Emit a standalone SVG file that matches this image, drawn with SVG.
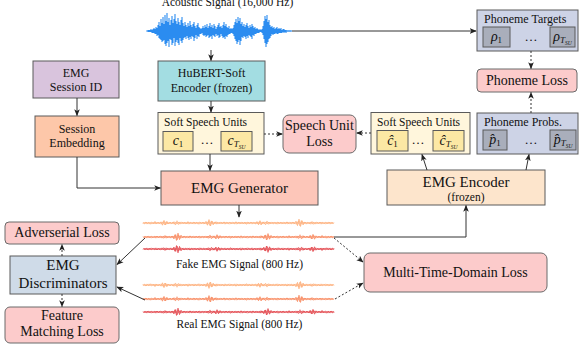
<svg xmlns="http://www.w3.org/2000/svg" xmlns:xlink="http://www.w3.org/1999/xlink" width="582" height="353" viewBox="0 0 582 353" font-family="Liberation Serif, Tinos, Times New Roman, DejaVu Serif, serif">
<style>
text{font-family:"Liberation Serif","Tinos","Times New Roman","DejaVu Serif",serif;fill:#111}
.box{stroke:#5a5a5a;stroke-width:1}
.loss{fill:#fccbcb;stroke:#6a6a6a;stroke-width:1}
.ln{fill:none;stroke:#333;stroke-width:1}
.dot{fill:none;stroke:#333;stroke-width:1;stroke-dasharray:2,2}
.m{font-style:italic}
.t11{font-size:11.5px}
.t12{font-size:12px}
.t14{font-size:14px}
.t15{font-size:15px}
.sig{fill:none;stroke-width:0.85}
</style>
<defs>
<marker id="ah" viewBox="0 0 10 10" refX="9" refY="5" markerWidth="7" markerHeight="7" markerUnits="userSpaceOnUse" orient="auto">
<path d="M0,1 L10,5 L0,9 L2.5,5 z" fill="#222"/>
</marker>
<path id="sA" d="M0,-0.5 L1.5,0.8 3,-1 4.5,0.6 6,-0.8 7.5,1.2 9,-0.6 10.5,0.9 12,-1.5 13.5,1 15,-0.7 16.5,0.5 18,-1.2 19.5,2.2 21,-2.6 22.5,2 24,-1.5 25.5,1 27,-0.8 28.5,0.6 30,-1 31.5,0.8 33,-0.5 34.5,0.7 36,-0.9 37.5,1.1 39,-0.6 40.5,0.5 42,-0.8 43.5,1 45,-1.3 46.5,0.7 48,-0.6 49.5,0.9 51,-1 52.5,0.6 54,-0.7 55.5,1.2 57,-0.8 58.5,0.5 60,-1 61.5,0.8 63,-1.6 64.5,2.2 66,-3.4 67.5,3 69,-2 70.5,1.5 72,-1 73.5,0.8 75,-0.6 76.5,0.9 78,-0.7 79.5,0.5 81,-1.1 82.5,0.8 84,-0.6 85.5,0.7 87,-0.9 88.5,1 90,-0.5 91.5,0.8 93,-1.2 94.5,0.6 96,-0.8 97.5,1 99,-0.7 100.5,0.5 102,-0.9 103.5,1.3 105,-0.8 106.5,0.6 108,-1 109.5,0.7 111,-0.5 112.5,0.9 114,-1.4 115.5,1.8 117,-2.3 118.5,1.6 120,-1 121.5,0.7 123,-0.8 124.5,0.6 126,-1 127.5,0.9 129,-0.6 130.5,0.8 132,-0.7 133.5,1.1 135,-0.9 136.5,0.5 138,-0.8 139.5,1 141,-0.6 142.5,0.7 144,-1.1 145.5,0.9 147,-0.6 148.5,0.8 150,-1 151.5,0.7 153,-1.8 154.5,2.6 156,-3.8 157.5,3.4 159,-2.3 160.5,1.5 162,-1 163.5,0.8 165,-0.6 166.5,1 168,-0.9 169.5,0.6 171,-0.8 172.5,1.1 174,-0.7 175.5,0.5 177,-1 178.5,0.8 180,-0.6 181.5,0.9 183,-0.7 184.5,1 186,-0.8 187.5,0.6 189,-0.5 190.5,0.4"/>
<g id="sig" class="sig">
<use xlink:href="#sA" href="#sA"/>
<use xlink:href="#sA" href="#sA" transform="translate(0.75,0) scale(1,-0.7)"/>
<use xlink:href="#sA" href="#sA" transform="translate(190,0) scale(-1,0.6)"/>
</g>
</defs>
<rect width="582" height="353" fill="#fff"/>

<g id="acoustic">
<text class="t11" x="227.5" y="6" text-anchor="middle">Acoustic Signal (16,000 Hz)</text>
<path d="M146 31H292" stroke="#2b8cf0" stroke-width="0.8" fill="none"/>
<path stroke="#2b8cf0" stroke-width="1.1" fill="none" d="M148 30V32M149 30V32M150 30V32M151 29V32M152 30V33M153 29V33M154 28V33M155 29V34M156 27V34M157 28V36M158 25V35M159 22V38M160 26V39M161 19V40M162 23V42M163 17V41M164 24V40M165 15V44M166 21V46M167 13V43M168 22V41M169 18V47M170 25V39M171 20V40M172 16V45M173 23V43M174 19V38M175 14V46M176 21V42M177 24V40M178 18V43M179 22V45M180 25V38M181 20V41M182 17V43M183 23V40M184 26V38M185 22V37M186 25V39M187 27V36M188 23V38M189 26V40M190 21V37M191 25V39M192 27V36M193 24V37M194 22V41M195 26V38M196 28V35M197 25V39M198 23V36M199 27V37M200 28V34M201 29V34M202 28V33M203 26V35M204 28V36M205 25V35M206 27V37M207 24V36M208 28V35M209 26V38M210 23V37M211 27V36M212 25V39M213 28V35M214 24V36M215 26V37M216 29V34M217 27V36M218 25V35M219 23V38M220 27V37M221 26V34M222 28V36M223 25V38M224 22V37M225 26V39M226 24V36M227 27V37M228 28V35M229 26V34M230 29V34M231 28V33M232 29V33M233 28V34M234 25V36M235 22V39M236 19V41M237 23V44M238 17V42M239 21V40M240 18V45M241 24V41M242 22V37M243 26V38M244 24V36M245 27V37M246 25V39M247 23V36M248 26V38M249 28V35M250 25V36M251 27V37M252 24V39M253 26V35M254 28V36M255 27V34M256 29V34M257 28V33M258 29V33M259 30V33M260 29V32M261 30V32M262 29V33M263 26V35M264 21V39M265 16V43M266 19V47M267 15V44M268 22V42M269 20V39M270 25V38M271 27V36M272 26V34M273 28V35M274 27V34M275 29V34M276 28V33M277 27V34M278 29V34M279 28V33M280 29V33M281 28V33M282 30V33M283 29V32M284 29V33M285 30V32M286 30V33M287 30.5V31.5M288 30.5V31.5M289 30.5V31.5M290 30.5V31.5M291 30.5V31.5"/>
</g>

<g id="fake-emg">
<use xlink:href="#sig" href="#sig" transform="translate(143,223)" stroke="#fdb07c"/>
<use xlink:href="#sig" href="#sig" transform="translate(334,237) scale(-1,1)" stroke="#f88c63"/>
<use xlink:href="#sig" href="#sig" transform="translate(334,249) scale(-1,-1)" stroke="#e34a4f"/>
<text class="t11" x="239.5" y="268" text-anchor="middle">Fake EMG Signal (800 Hz)</text>
</g>

<g id="real-emg">
<use xlink:href="#sig" href="#sig" transform="translate(143,285) scale(1,-1)" stroke="#fdb07c"/>
<use xlink:href="#sig" href="#sig" transform="translate(143,299)" stroke="#f88c63"/>
<use xlink:href="#sig" href="#sig" transform="translate(334,312) scale(-1,1)" stroke="#e34a4f"/>
<text class="t11" x="239.5" y="328" text-anchor="middle">Real EMG Signal (800 Hz)</text>
</g>

<g id="emg-session-id">
<rect class="box" x="33" y="61" width="86" height="37" fill="#d9c4dd"/>
<text class="t12" x="76" y="77" text-anchor="middle">EMG</text>
<text class="t12" x="76" y="91" text-anchor="middle">Session ID</text>
</g>

<g id="session-embedding">
<rect class="box" x="35" y="116" width="84" height="41" fill="#fdc7a9"/>
<text class="t12" x="77" y="133" text-anchor="middle">Session</text>
<text class="t12" x="77" y="147" text-anchor="middle">Embedding</text>
</g>

<g id="hubert">
<rect class="box" x="158" y="61" width="107" height="40" fill="#a3dde2"/>
<text class="t12" x="211.5" y="77" text-anchor="middle">HuBERT-Soft</text>
<text class="t12" x="211.5" y="92" text-anchor="middle">Encoder (frozen)</text>
</g>

<g id="soft-speech-units">
<rect class="box" x="158" y="112.5" width="106" height="41.5" fill="#fff6dc"/>
<text class="t11" x="164" y="125.5">Soft Speech Units</text>
<rect class="box" x="163" y="131.5" width="30" height="19.5" fill="#fce8a4"/>
<text x="178" y="145" text-anchor="middle" font-size="14"><tspan class="m">c</tspan><tspan font-size="9" dy="2">1</tspan></text>
<text x="207" y="144" text-anchor="middle" font-size="13">…</text>
<rect class="box" x="221" y="131.5" width="31" height="19.5" fill="#fce8a4"/>
<text x="236.5" y="145" text-anchor="middle" font-size="14"><tspan class="m">c</tspan><tspan class="m" font-size="9" dy="2">T</tspan><tspan class="m" font-size="5.5" dy="1.5">SU</tspan></text>
</g>

<g id="speech-unit-loss">
<rect class="loss" x="283" y="115" width="73" height="38" rx="6"/>
<text class="t14" x="319.5" y="130" text-anchor="middle">Speech Unit</text>
<text class="t14" x="319.5" y="146" text-anchor="middle">Loss</text>
</g>

<g id="soft-speech-units-hat">
<rect class="box" x="371" y="112.5" width="99" height="41.5" fill="#fff6dc"/>
<text class="t11" x="377" y="125.5">Soft Speech Units</text>
<rect class="box" x="377" y="130.5" width="31" height="20.5" fill="#fce8a4"/>
<text x="392.5" y="145" text-anchor="middle" font-size="14"><tspan class="m">ĉ</tspan><tspan font-size="9" dy="2">1</tspan></text>
<text x="418" y="144" text-anchor="middle" font-size="13">…</text>
<rect class="box" x="433" y="130.5" width="31" height="20.5" fill="#fce8a4"/>
<text x="448.5" y="145" text-anchor="middle" font-size="14"><tspan class="m">ĉ</tspan><tspan class="m" font-size="9" dy="2">T</tspan><tspan class="m" font-size="5.5" dy="1.5">SU</tspan></text>
</g>

<g id="phoneme-targets">
<rect class="box" x="477" y="10" width="101" height="41" fill="#cdd3e6"/>
<text class="t12" x="484" y="23">Phoneme Targets</text>
<rect class="box" x="483" y="27" width="27" height="20" fill="#a9aebb"/>
<text x="496.5" y="41" text-anchor="middle" font-size="14"><tspan class="m">ρ</tspan><tspan font-size="9" dy="2">1</tspan></text>
<text x="531" y="41" text-anchor="middle" font-size="13">…</text>
<rect class="box" x="550" y="27" width="25" height="20" fill="#a9aebb"/>
<text x="562.5" y="41" text-anchor="middle" font-size="14"><tspan class="m">ρ</tspan><tspan class="m" font-size="9" dy="2">T</tspan><tspan class="m" font-size="5.5" dy="1.5">SU</tspan></text>
</g>

<g id="phoneme-loss">
<rect class="loss" x="477" y="69" width="100" height="23" rx="4"/>
<text class="t14" x="527" y="85" text-anchor="middle">Phoneme Loss</text>
</g>

<g id="phoneme-probs">
<rect class="box" x="477" y="113" width="101" height="41" fill="#cdd3e6"/>
<text class="t12" x="484" y="126">Phoneme Probs.</text>
<rect class="box" x="483" y="130" width="24" height="20" fill="#a9aebb"/>
<text x="495" y="144" text-anchor="middle" font-size="14"><tspan class="m">p̂</tspan><tspan font-size="9" dy="2">1</tspan></text>
<text x="531" y="144" text-anchor="middle" font-size="13">…</text>
<rect class="box" x="550" y="130" width="26" height="20" fill="#a9aebb"/>
<text x="563" y="144" text-anchor="middle" font-size="14"><tspan class="m">p̂</tspan><tspan class="m" font-size="9" dy="2">T</tspan><tspan class="m" font-size="5.5" dy="1.5">SU</tspan></text>
</g>

<g id="emg-generator">
<rect class="box" x="161" y="171" width="157" height="34" fill="#fdc6b9"/>
<text class="t15" x="239.5" y="193" text-anchor="middle">EMG Generator</text>
</g>

<g id="emg-encoder">
<rect class="box" x="387" y="170" width="158" height="35" fill="#fde5cc"/>
<text class="t15" x="466" y="187" text-anchor="middle">EMG Encoder</text>
<text class="t11" x="466" y="201" text-anchor="middle">(frozen)</text>
</g>

<g id="adverserial-loss">
<rect class="loss" x="5" y="222" width="114" height="22" rx="4"/>
<text class="t14" x="62" y="237" text-anchor="middle">Adverserial Loss</text>
</g>

<g id="emg-discriminators">
<rect class="box" x="10" y="256" width="106" height="38" fill="#cfdbe8"/>
<text class="t15" x="63" y="270" text-anchor="middle">EMG</text>
<text class="t15" x="63" y="288" text-anchor="middle">Discriminators</text>
</g>

<g id="feature-matching-loss">
<rect class="loss" x="5" y="307" width="114" height="36" rx="5"/>
<text class="t14" x="62" y="320" text-anchor="middle">Feature</text>
<text class="t14" x="62" y="336" text-anchor="middle">Matching Loss</text>
</g>

<g id="multi-time-domain-loss">
<rect class="loss" x="364" y="253" width="183" height="39" rx="6"/>
<text class="t14" x="455.5" y="277" text-anchor="middle">Multi-Time-Domain Loss</text>
</g>

<g id="connectors">
<path class="ln" d="M292 31H476" marker-end="url(#ah)"/>
<path class="ln" d="M211 50V60.5" marker-end="url(#ah)"/>
<path class="ln" d="M211 101V112" marker-end="url(#ah)"/>
<path class="ln" d="M77 98V115.5" marker-end="url(#ah)"/>
<path class="ln" d="M77 157V188H160.5" marker-end="url(#ah)"/>
<path class="ln" d="M210 154V170.5" marker-end="url(#ah)"/>
<path class="ln" d="M239 205V217" marker-end="url(#ah)"/>
<path class="dot" d="M264 134H282.5" marker-end="url(#ah)"/>
<path class="dot" d="M371 133H356.5" marker-end="url(#ah)"/>
<path class="dot" d="M531 51V68.5" marker-end="url(#ah)"/>
<path class="dot" d="M531 113V92.5" marker-end="url(#ah)"/>
<path class="ln" d="M427 170L422 154.5" marker-end="url(#ah)"/>
<path class="ln" d="M526 170L529 154.5" marker-end="url(#ah)"/>
<path class="ln" d="M334 237H466V205.5" marker-end="url(#ah)"/>
<path class="dot" d="M334 238L363 262" marker-end="url(#ah)"/>
<path class="dot" d="M335 299L363 283" marker-end="url(#ah)"/>
<path class="ln" d="M145 238L117 264.5" marker-end="url(#ah)"/>
<path class="ln" d="M145 300L117 287" marker-end="url(#ah)"/>
<path class="dot" d="M62 256V244.5" marker-end="url(#ah)"/>
<path class="dot" d="M62 294V306.5" marker-end="url(#ah)"/>
</g>
</svg>
